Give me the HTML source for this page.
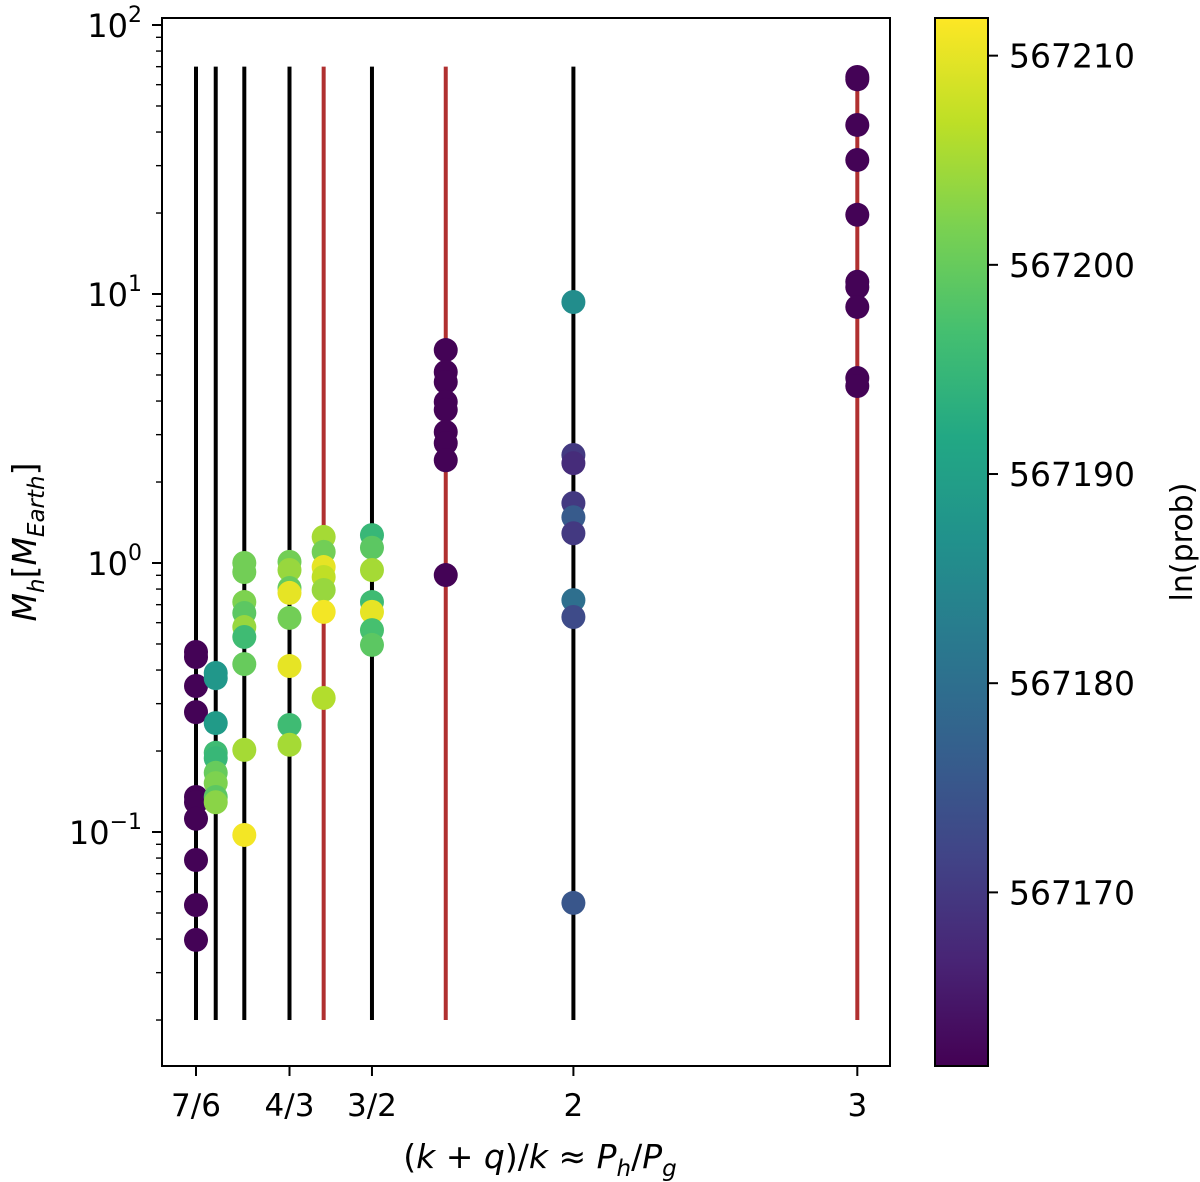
<!DOCTYPE html>
<html><head><meta charset="utf-8"><style>
html,body{margin:0;padding:0;background:#fff}
svg{display:block;font-family:"DejaVu Sans","Liberation Sans",sans-serif}
</style></head><body>
<svg id="chart" width="1200" height="1182" viewBox="0 0 1200 1182" xmlns="http://www.w3.org/2000/svg">
<defs>
<linearGradient id="vir" x1="0" y1="1" x2="0" y2="0">
<stop offset="0" stop-color="#440154"/><stop offset="0.1" stop-color="#482475"/><stop offset="0.2" stop-color="#414487"/><stop offset="0.3" stop-color="#355f8d"/><stop offset="0.4" stop-color="#2a788e"/><stop offset="0.5" stop-color="#21918c"/><stop offset="0.6" stop-color="#22a884"/><stop offset="0.7" stop-color="#44bf70"/><stop offset="0.8" stop-color="#7ad151"/><stop offset="0.9" stop-color="#bddf26"/><stop offset="1" stop-color="#fde725"/>
</linearGradient>
<clipPath id="pc"><rect x="162" y="18" width="728" height="1048"/></clipPath>
</defs>
<g id="marks" clip-path="url(#pc)"></g>
<rect x="162" y="18" width="728" height="1048" fill="none" stroke="#000" stroke-width="2"/>
<g id="axes"></g>
<text transform="translate(36,542) rotate(-90)" text-anchor="middle" font-size="33"><tspan font-style="italic">M</tspan><tspan font-style="italic" font-size="23" dy="8">h</tspan><tspan dy="-8">[</tspan><tspan font-style="italic">M</tspan><tspan font-style="italic" font-size="23" dy="8">Earth</tspan><tspan dy="-8">]</tspan></text>
<text x="540" y="1168" text-anchor="middle" font-size="33">(<tspan font-style="italic">k</tspan> + <tspan font-style="italic">q</tspan>)/<tspan font-style="italic">k</tspan> ≈ <tspan font-style="italic">P</tspan><tspan font-style="italic" font-size="23" dy="8">h</tspan><tspan dy="-8">/</tspan><tspan font-style="italic">P</tspan><tspan font-style="italic" font-size="23" dy="8">g</tspan></text>
<rect x="935" y="18" width="53" height="1048" fill="url(#vir)" stroke="#000" stroke-width="2"/>
<g id="cbar"></g>
<text transform="translate(1192,542) rotate(-90)" text-anchor="middle" font-size="30">ln(prob)</text>
</svg>
<script>
const resonances=[7/6,6/5,5/4,4/3,7/5,3/2,5/3,2,3];
const resonanceRed=[false,false,false,false,true,false,true,false,true];
const xTickValues=[7/6,4/3,3/2,2,3];
const xTickLabels=["7/6","4/3","3/2","2","3"];
const yTickExps=[-1,0,1,2];
const cbarTicks=[567170,567180,567190,567200,567210];
const ptRatio=[
7/6,7/6,7/6,7/6,7/6,7/6,7/6,7/6,7/6,7/6,
6/5,6/5,6/5,6/5,6/5,6/5,6/5,6/5,6/5,
5/4,5/4,5/4,5/4,5/4,5/4,5/4,5/4,5/4,
4/3,4/3,4/3,4/3,4/3,4/3,4/3,4/3,
7/5,7/5,7/5,7/5,7/5,7/5,7/5,
3/2,3/2,3/2,3/2,3/2,3/2,3/2,
5/3,5/3,5/3,5/3,5/3,5/3,5/3,5/3,5/3,
2,2,2,2,2,2,2,2,2,
3,3,3,3,3,3,3,3,3,3];
const ptMass=[
0.467,0.447,0.349,0.279,0.135,0.129,0.112,0.0787,0.0535,0.0397,
0.390,0.373,0.254,0.197,0.188,0.166,0.152,0.135,0.129,
1.0,0.926,0.716,0.652,0.578,0.531,0.421,0.202,0.0975,
1.01,0.942,0.807,0.774,0.625,0.414,0.250,0.211,
1.25,1.10,0.966,0.887,0.794,0.658,0.315,
1.27,1.14,0.942,0.716,0.658,0.563,0.496,
6.19,5.13,4.71,3.97,3.71,3.07,2.79,2.41,0.902,
9.34,2.52,2.35,1.67,1.48,1.29,0.728,0.630,0.0545,
64.1,62.8,42.5,31.5,19.7,11.1,10.6,8.95,4.87,4.55];
const ptLnProb=[
567162,567162,567162,567162,567162,567162,567162,567162,567162,567162,
567188,567188,567189,567196,567195,567200,567202,567199,567203,
567201,567201,567202,567199,567204,567196,567200,567205,567211,
567201,567204,567200,567210,567201,567210,567196,567205,
567205,567201,567210,567207,567204,567211,567206,
567195,567199,567205,567196,567210,567197,567199,
567162,567162,567162,567162,567162,567162,567162,567162,567162,
567186,567170,567168,567170,567176,567170,567180,567173,567175,
567162,567162,567162,567162,567162,567162,567162,567162,567162,567162];
const VMIN=567161.7,VMAX=567211.8;
const NS="http://www.w3.org/2000/svg";
function X(r){return 196+(Math.log(r)-Math.log(7/6))*700.2;}
function Y(m){return 563-Math.log10(m)*269;}
function CY(v){return 1066-(v-VMIN)/(VMAX-VMIN)*1048;}
const stops=["#440154","#482475","#414487","#355f8d","#2a788e","#21918c","#22a884","#44bf70","#7ad151","#bddf26","#fde725"];
function vir(v){let t=Math.max(0,Math.min(1,(v-VMIN)/(VMAX-VMIN)))*10;let i=Math.min(9,Math.floor(t));let f=t-i;
const a=stops[i],b=stops[i+1];const p=(s,k)=>parseInt(s.substr(1+2*k,2),16);
let c=[0,1,2].map(k=>Math.round(p(a,k)+(p(b,k)-p(a,k))*f));return `rgb(${c.join(',')})`;}
function mk(tag,attrs,parent){const e=document.createElementNS(NS,tag);for(const k in attrs)e.setAttribute(k,attrs[k]);parent.appendChild(e);return e;}
const marks=document.getElementById('marks'),axes=document.getElementById('axes'),cb=document.getElementById('cbar');
resonances.forEach((r,i)=>{
const l=mk('line',{x1:X(r),x2:X(r),y1:Y(70),y2:Y(0.02),stroke:resonanceRed[i]?'#b03030':'#000','stroke-width':4},marks);


});
ptRatio.forEach((r,i)=>{
const c=mk('circle',{cx:X(r),cy:Y(ptMass[i]),r:12,fill:vir(ptLnProb[i])},marks);


});
xTickValues.forEach((v,i)=>{
const x=X(v);
const t=mk('line',{x1:x,x2:x,y1:1066,y2:1076,stroke:'#000','stroke-width':2},axes);


const tx=mk('text',{x:x,y:1116,'text-anchor':'middle','font-size':31},axes);
tx.textContent=xTickLabels[i];


});
yTickExps.forEach(e=>{
const y=Y(Math.pow(10,e));
const t=mk('line',{x1:152,x2:162,y1:y,y2:y,stroke:'#000','stroke-width':2},axes);


const tx=mk('text',{x:142,y:y+12,'text-anchor':'end','font-size':32},axes);


tx.innerHTML='10<tspan font-size="22" dy="-15">'+(e<0?'−'+(-e):e)+'</tspan>';
});
for(let e=-2;e<2;e++){for(let k=2;k<10;k++){const y=Y(k*Math.pow(10,e));if(y>1066||y<18)continue;
const t=mk('line',{x1:156,x2:162,y1:y,y2:y,stroke:'#000','stroke-width':1.4},axes);

}}
cbarTicks.forEach(v=>{
const y=CY(v);
const t=mk('line',{x1:988,x2:998,y1:y,y2:y,stroke:'#000','stroke-width':2},cb);


const tx=mk('text',{x:1009,y:y+12,'font-size':33},cb);
tx.textContent=v;


});
</script>
</body></html>
